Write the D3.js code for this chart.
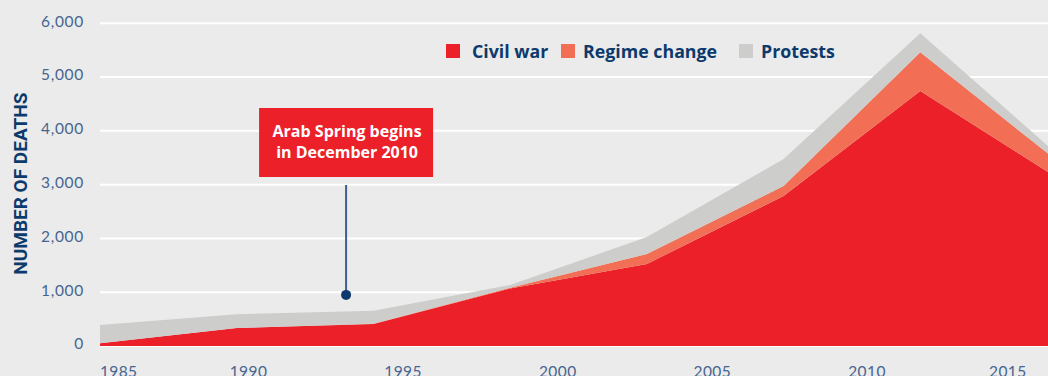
<!DOCTYPE html>
<html><head><meta charset="utf-8">
<script src="https://cdn.jsdelivr.net/npm/d3@7"></script>
<style>
html,body{margin:0;padding:0;background:#ebebeb;}
svg{display:block;}
</style></head>
<body>
<svg id="chart" width="1048" height="376"></svg>
<script>
// ---- data ----
const periods = [0, 1, 2, 3, 4, 5, 6, 7];
const civilWar = [50, 335, 410, 1070, 1525, 2790, 4740, 3130];
const regimeChange = [0, 0, 5, 15, 185, 185, 720, 315];
const protests = [340, 255, 240, 50, 315, 500, 355, 125];
const seriesNames = ["Civil war", "Regime change", "Protests"];
const yTicks = [0, 1000, 2000, 3000, 4000, 5000, 6000];
const yearTicks = [1985, 1990, 1995, 2000, 2005, 2010, 2015];
const annoText = ["Arab Spring begins", "in December 2010"];
const annoPeriod = 1.8, annoValue = 950;

// ---- layout ----
const W = 1048, H = 376;
const colors = ["#ec2029", "#f26f55", "#cdcdcb"];
const navy = "#0d3a6c", tickCol = "#46658f";
const svg = d3.select("#chart");
svg.append("rect").attr("width", W).attr("height", H).attr("fill", "#ebebeb");

const y = d3.scaleLinear().domain([0, 6000]).range([346, 23.3]);
const x = d3.scaleLinear().domain([0, 7]).range([100, 1057]);
const xYear = d3.scaleLinear().domain([1990, 2010]).range([248.5, 867]);

svg.append("clipPath").attr("id", "plot").append("rect")
  .attr("x", 100).attr("y", 0).attr("width", 948).attr("height", H);

// gridlines
svg.append("g").selectAll("line").data(yTicks).join("line")
  .attr("x1", 100).attr("x2", W)
  .attr("y1", d => y(d)).attr("y2", d => y(d))
  .attr("stroke", "#ffffff").attr("stroke-width", 2);

const tickFont = "Lato, 'Open Sans', sans-serif";
// y tick labels
svg.append("g").selectAll("text").data(yTicks).join("text")
  .attr("x", 84).attr("y", d => y(d) + 3.4)
  .attr("text-anchor", "end")
  .attr("font-family", tickFont)
  .attr("font-weight", 400)
  .attr("font-size", 15.5)
  .attr("letter-spacing", 0.7)
  .attr("fill", tickCol)
  .text(d => d3.format(",")(d));

// axis title
svg.append("text")
  .attr("transform", `translate(27, ${y(3000) - 1}) rotate(-90)`)
  .attr("text-anchor", "middle")
  .attr("font-family", "Roboto, 'Open Sans', sans-serif")
  .attr("font-weight", 700)
  .attr("font-size", 19)
  .attr("fill", navy)
  .text("NUMBER OF DEATHS");

// stacked areas
const rows = periods.map((p, i) => ({p, "Civil war": civilWar[i], "Regime change": regimeChange[i], "Protests": protests[i]}));
const stacked = d3.stack().keys(seriesNames)(rows);
const area = d3.area().x(d => x(d.data.p)).y0(d => y(d[0])).y1(d => y(d[1]));
svg.append("g").attr("clip-path", "url(#plot)")
  .selectAll("path").data(stacked).join("path")
  .attr("d", area)
  .attr("fill", (d, i) => colors[i]);

// x tick labels
svg.append("g").selectAll("text").data(yearTicks).join("text")
  .attr("x", d => xYear(d))
  .attr("dx", (d, i) => i === 0 ? 6 : (i === yearTicks.length - 1 ? 5 : 0))
  .attr("y", 376.5)
  .attr("text-anchor", (d, i) => i === 0 ? "start" : (i === yearTicks.length - 1 ? "end" : "middle"))
  .attr("font-family", tickFont)
  .attr("font-weight", 400)
  .attr("font-size", 15.5)
  .attr("letter-spacing", 0.4)
  .attr("fill", tickCol)
  .text(d => d);

// legend
const legendX = [446, 561, 739];
const legendTextX = [472, 583, 761];
const lg = svg.append("g");
seriesNames.forEach((name, i) => {
  lg.append("rect").attr("x", legendX[i]).attr("y", 44).attr("width", 14).attr("height", 14).attr("fill", colors[i]);
  lg.append("text").attr("x", legendTextX[i]).attr("y", 57.5)
    .attr("font-family", "'Open Sans', Roboto, sans-serif")
    .attr("font-weight", 700).attr("font-size", 17.8)
    .attr("fill", navy).text(name);
});

// annotation
const ax = x(annoPeriod), ay = y(annoValue);
const ag = svg.append("g");
ag.append("line").attr("x1", ax).attr("x2", ax).attr("y1", 185).attr("y2", ay)
  .attr("stroke", "#3c5f8c").attr("stroke-width", 2);
ag.append("circle").attr("cx", ax).attr("cy", ay).attr("r", 5).attr("fill", navy);
ag.append("rect").attr("x", ax - 87).attr("y", 108).attr("width", 174).attr("height", 69).attr("fill", "#ec2029");
annoText.forEach((t, i) => {
  ag.append("text").attr("x", ax + 1).attr("y", 137 + i * 21)
    .attr("text-anchor", "middle")
    .attr("font-family", "'Open Sans', Roboto, sans-serif")
    .attr("font-weight", 700).attr("font-size", 16)
    .attr("fill", "#ffffff").text(t);
});
</script>
</body></html>
